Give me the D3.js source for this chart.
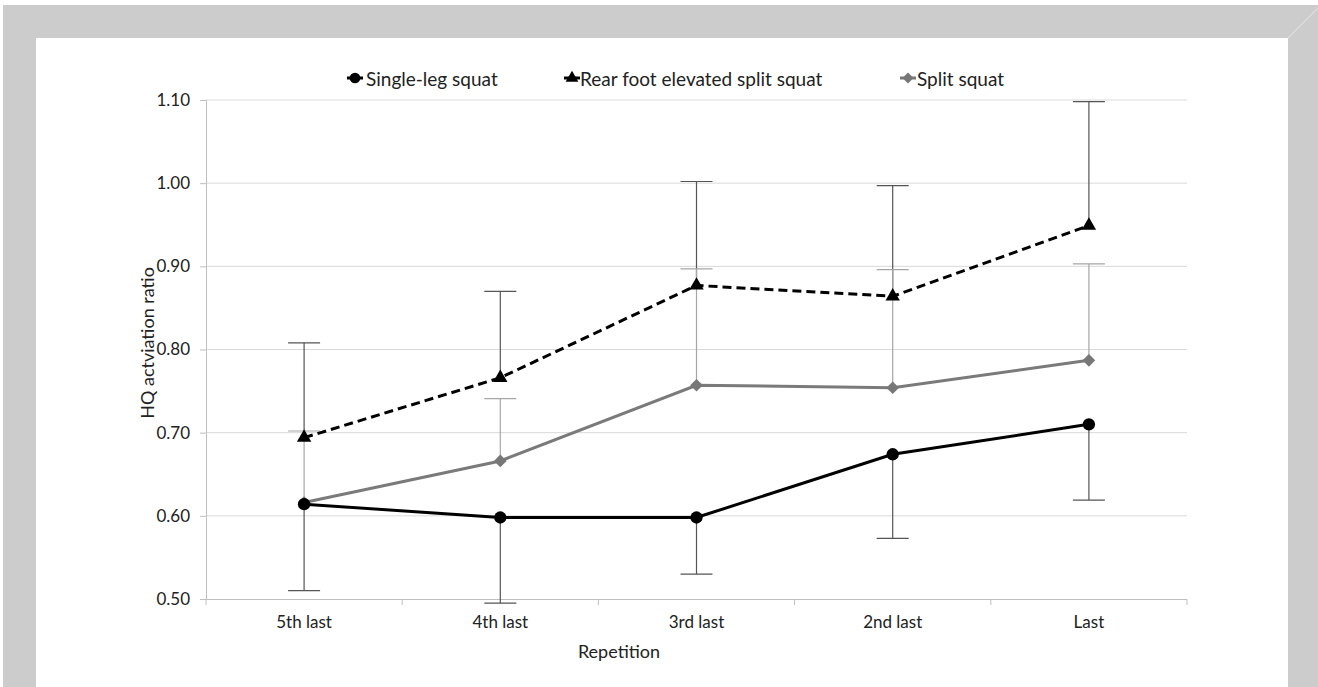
<!DOCTYPE html>
<html>
<head>
<meta charset="utf-8">
<script src="https://cdn.jsdelivr.net/npm/d3@7/dist/d3.min.js"></script>
<style>
  html, body { margin: 0; padding: 0; background: #ffffff; }
  svg { display: block; }
  text { font-family: Lato, "Open Sans", sans-serif; fill: #222; }
</style>
</head>
<body>
<svg id="chart" width="1318" height="687"></svg>
<script>
// ---------- data ----------
const categories = ["5th last", "4th last", "3rd last", "2nd last", "Last"];
const seriesNames = ["Single-leg squat", "Rear foot elevated split squat", "Split squat"];
const singleLegMean = [0.614, 0.598, 0.598, 0.674, 0.710];
const singleLegSD   = [0.104, 0.103, 0.068, 0.101, 0.091];   // drawn downward
const rfessMean     = [0.694, 0.766, 0.877, 0.864, 0.949];
const rfessSD       = [0.114, 0.104, 0.125, 0.133, 0.149];   // drawn upward
const splitMean     = [0.616, 0.666, 0.757, 0.754, 0.787];
const splitSD       = [0.086, 0.075, 0.140, 0.142, 0.116];   // drawn upward
const yTicks = [0.50, 0.60, 0.70, 0.80, 0.90, 1.00, 1.10];
const yTitle = "HQ actviation ratio";
const xTitle = "Repetition";

(function () {
// ---------- layout ----------
const svg = d3.select("#chart");
const W = 1318, H = 687;
const pLeft = 206, pRight = 1187, pTop = 100, pBottom = 599;

// frame
svg.append("rect").attr("x", 0).attr("y", 0).attr("width", W).attr("height", H).attr("fill", "#ffffff");
svg.append("rect").attr("x", 3).attr("y", 5).attr("width", W - 3).attr("height", H - 5).attr("fill", "#cccccc");
svg.append("rect").attr("x", 36).attr("y", 38).attr("width", 1288 - 36).attr("height", H - 38).attr("fill", "#ffffff");
svg.append("line").attr("x1", 1288).attr("y1", 38).attr("x2", 1318).attr("y2", 8)
  .attr("stroke", "#dedede").attr("stroke-width", 1.2);

const x = d3.scaleBand().domain(categories).range([pLeft, pRight]);
const y = d3.scaleLinear().domain([0.5, 1.1]).range([pBottom, pTop]);
const cx = c => x(c) + x.bandwidth() / 2;

// gridlines
svg.append("g").selectAll("line").data(yTicks.slice(1)).join("line")
  .attr("x1", pLeft).attr("x2", pRight)
  .attr("y1", d => y(d)).attr("y2", d => y(d))
  .attr("stroke", "#d9d9d9").attr("stroke-width", 1);

// y axis
const yAxis = svg.append("g").attr("transform", `translate(${pLeft},0)`)
  .call(d3.axisLeft(y).tickValues(yTicks).tickFormat(d3.format(".2f")).tickSize(6).tickPadding(10));
yAxis.select(".domain").attr("stroke", "#bfbfbf");
yAxis.selectAll(".tick line").attr("stroke", "#bfbfbf");
yAxis.selectAll(".tick text").style("font-size", "17px").attr("fill", "#222")
  .style("font-family", "Lato, 'Open Sans', sans-serif");

// x axis
const xAxis = svg.append("g").attr("transform", `translate(0,${pBottom})`)
  .call(d3.axisBottom(x).tickSize(0).tickPadding(17));
xAxis.select(".domain").attr("stroke", "#bfbfbf").attr("d", `M${pLeft},0.5H${pRight}`);
xAxis.selectAll(".tick text").style("font-size", "17px").attr("fill", "#222")
  .style("font-family", "Lato, 'Open Sans', sans-serif");
// band boundary ticks
const bounds = categories.map(c => x(c)).concat([pRight]);
svg.append("g").selectAll("line").data(bounds).join("line")
  .attr("x1", d => d).attr("x2", d => d)
  .attr("y1", pBottom).attr("y2", pBottom + 6)
  .attr("stroke", "#bfbfbf");

// axis titles
svg.append("text").attr("transform", `translate(149,343) rotate(-90)`)
  .attr("text-anchor", "middle").attr("dominant-baseline", "middle")
  .style("font-size", "18px").text(yTitle);
svg.append("text").attr("x", 619).attr("y", 658).attr("text-anchor", "middle")
  .style("font-size", "18px").text(xTitle);

// ---------- error bars ----------
const capHalf = 16;
function errorBars(means, sds, dir, color) {
  const g = svg.append("g").attr("stroke", color).attr("stroke-width", 1.2);
  categories.forEach((c, i) => {
    const x0 = cx(c);
    const end = means[i] + dir * sds[i];
    g.append("line").attr("x1", x0).attr("x2", x0).attr("y1", y(means[i])).attr("y2", y(end));
    g.append("line").attr("x1", x0 - capHalf).attr("x2", x0 + capHalf).attr("y1", y(end)).attr("y2", y(end));
  });
}
errorBars(singleLegMean, singleLegSD, -1, "#555555");
errorBars(rfessMean, rfessSD, 1, "#555555");
errorBars(splitMean, splitSD, 1, "#a6a6a6");

// ---------- lines ----------
const line = d3.line().x((d, i) => cx(categories[i])).y(d => y(d));
svg.append("path").datum(splitMean).attr("d", line).attr("fill", "none")
  .attr("stroke", "#7a7a7a").attr("stroke-width", 3);
svg.append("path").datum(singleLegMean).attr("d", line).attr("fill", "none")
  .attr("stroke", "#000").attr("stroke-width", 3);
svg.append("path").datum(rfessMean).attr("d", line).attr("fill", "none")
  .attr("stroke", "#000").attr("stroke-width", 3).attr("stroke-dasharray", "9,5");

// ---------- markers ----------
const symCircle = d3.symbol().type(d3.symbolCircle).size(120);
const symTri = d3.symbol().type(d3.symbolTriangle).size(90);
const symDiamond = d3.symbol().type(d3.symbolSquare).size(80);
function markers(means, sym, color, rot) {
  svg.append("g").selectAll("path").data(means).join("path")
    .attr("d", sym())
    .attr("transform", (d, i) => `translate(${cx(categories[i])},${y(d)}) rotate(${rot})`)
    .attr("fill", color);
}
markers(splitMean, symDiamond, "#777777", 45);
markers(singleLegMean, symCircle, "#000", 0);
markers(rfessMean, symTri, "#000", 0);

// ---------- legend ----------
const legendItems = [
  { name: seriesNames[0], mx: 355, tx: 366, sym: d3.symbol().type(d3.symbolCircle).size(90), color: "#000", rot: 0 },
  { name: seriesNames[1], mx: 572, tx: 580, sym: d3.symbol().type(d3.symbolTriangle).size(70), color: "#000", rot: 0 },
  { name: seriesNames[2], mx: 908, tx: 917, sym: d3.symbol().type(d3.symbolSquare).size(60), color: "#777777", rot: 45 }
];
const ly = 78;
legendItems.forEach(it => {
  svg.append("line").attr("x1", it.mx - 8).attr("x2", it.mx + 8).attr("y1", ly).attr("y2", ly)
    .attr("stroke", it.color).attr("stroke-width", 3);
  svg.append("path").attr("d", it.sym())
    .attr("transform", `translate(${it.mx},${ly}) rotate(${it.rot})`).attr("fill", it.color);
  svg.append("text").attr("x", it.tx).attr("y", ly).attr("dominant-baseline", "central")
    .style("font-size", "19px").text(it.name);
});
})();
</script>
</body>
</html>
